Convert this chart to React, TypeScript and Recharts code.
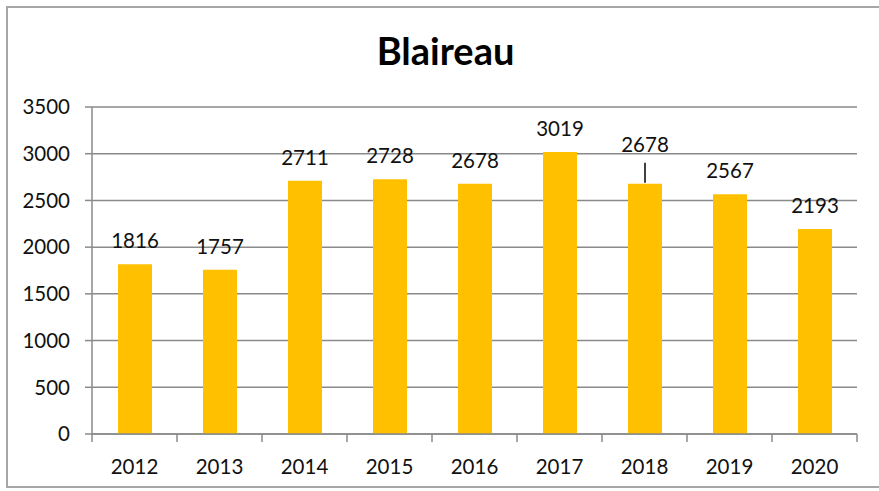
import React from "react";
import { BarChart, Bar, XAxis, YAxis, CartesianGrid, LabelList } from "recharts";

const years = ["2012", "2013", "2014", "2015", "2016", "2017", "2018", "2019", "2020"];
const counts = [1816, 1757, 2711, 2728, 2678, 3019, 2678, 2567, 2193];
const yTicks = [0, 500, 1000, 1500, 2000, 2500, 3000, 3500];
const title = "Blaireau";
const leaderYear = "2018";

const data = years.map((y, i) => ({ year: y, value: counts[i] }));

const FONT = "Lato, 'Liberation Sans', sans-serif";
const GRID = "#8a8a8a";
const TEXT = "#111";

const XTick = (props: any) => {
  const { x, y, payload, index } = props;
  const half = payload && payload.offset ? payload.offset : 42.5;
  const last = index === years.length - 1;
  const axisY = y - 8;
  return (
    <g>
      <line x1={x - half} x2={x - half} y1={axisY} y2={axisY + 8} stroke={GRID} strokeWidth={1.5} />
      {last && <line x1={x + half} x2={x + half} y1={axisY} y2={axisY + 8} stroke={GRID} strokeWidth={1.5} />}
      <text x={x} y={axisY + 40} textAnchor="middle" fill={TEXT} fontSize={20.5} fontFamily={FONT}>
        {payload.value}
      </text>
    </g>
  );
};

const BarLabel = (props: any) => {
  const { x, y, width, value, index } = props;
  const cx = x + width / 2;
  const isLeader = years[index] === leaderYear;
  if (isLeader) {
    return (
      <g>
        <line x1={cx} x2={cx} y1={y - 21} y2={y - 1} stroke="#000" strokeWidth={1.5} />
        <text x={cx} y={y - 32} textAnchor="middle" fill={TEXT} fontSize={20.5} fontFamily={FONT}>
          {value}
        </text>
      </g>
    );
  }
  return (
    <text x={cx} y={y - 16} textAnchor="middle" fill={TEXT} fontSize={20.5} fontFamily={FONT}>
      {value}
    </text>
  );
};

export default function App() {
  return (
    <div style={{ position: "absolute", left: 0, top: 0, width: 879, height: 491, overflow: "hidden", background: "#fff" }}>
      <div
        style={{
          position: "absolute",
          left: 6,
          top: 6,
          width: 900,
          height: 482,
          border: "2px solid #a6a6a6",
          boxSizing: "border-box",
        }}
      />
      <div
        style={{
          position: "absolute",
          left: 0,
          width: 891,
          top: 28,
          textAlign: "center",
          fontFamily: FONT,
          fontWeight: 700,
          fontSize: 38,
          color: "#000",
          lineHeight: "44px",
        }}
      >
        {title}
      </div>
      <div style={{ position: "absolute", left: 0, top: 0 }}>
        <BarChart width={879} height={491} data={data} margin={{ top: 107, right: 22, bottom: 0, left: 0 }}>
          <CartesianGrid vertical={false} stroke={GRID} strokeWidth={1.5} />
          <XAxis
            dataKey="year"
            height={57}
            axisLine={{ stroke: GRID, strokeWidth: 1.5 }}
            tickLine={false}
            tick={<XTick />}
            interval={0}
          />
          <YAxis
            width={92}
            domain={[0, 3500]}
            ticks={yTicks}
            interval={0}
            axisLine={{ stroke: GRID, strokeWidth: 1.5 }}
            tickLine={{ stroke: GRID, strokeWidth: 1.5 }}
            tickSize={7}
            tickMargin={15}
            tick={{ fill: TEXT, fontSize: 20.5, fontFamily: FONT }}
          />
          <Bar dataKey="value" fill="#FFC000" isAnimationActive={false} barSize={34}>
            <LabelList dataKey="value" content={<BarLabel />} />
          </Bar>
        </BarChart>
      </div>
    </div>
  );
}
